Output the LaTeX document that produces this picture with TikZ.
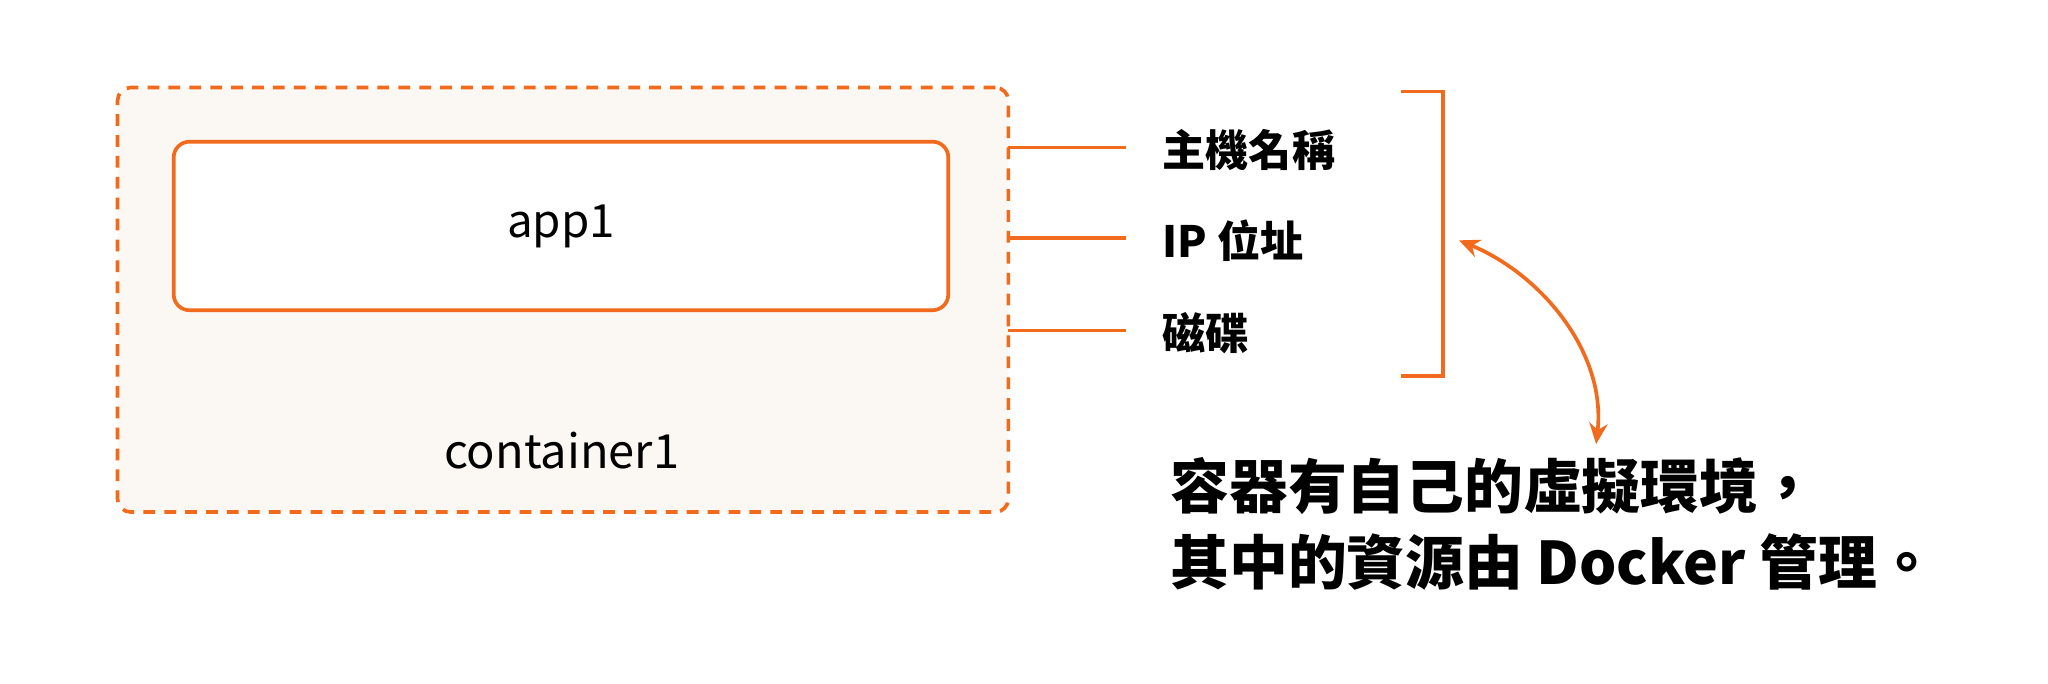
\documentclass[tikz,border=0pt]{standalone}
\usepackage{fontspec}
\setmainfont{Noto Sans CJK TC}
\usetikzlibrary{arrows.meta}
\definecolor{org}{HTML}{F26A1B}
\definecolor{bg}{HTML}{FBF8F4}
\begin{document}
\begin{tikzpicture}[x=1pt,y=-1pt,
  line/.style={draw=org,line width=2.8pt},
  lab/.style={anchor=west,font=\fontsize{33}{36}\selectfont\bfseries,inner sep=0},
  ]
\useasboundingbox (0,0) rectangle (1568,523);
\fill[white] (0,0) rectangle (1568,523);
\node[line,dashed,dash pattern=on 9pt off 7pt,fill=bg,rounded corners=10pt,minimum width=682pt,minimum height=325pt] (cont) at (431,229.5) {};
\node[line,fill=white,rounded corners=12pt,minimum width=593pt,minimum height=129pt,font=\fontsize{35}{38}\selectfont] (app) at (429.5,173) {app1};
\node[font=\fontsize{36}{38}\selectfont] (cl) at (430,345) {container1};
\node[lab] (l1) at (890,115) {主機名稱};
\node[lab] (l2) at (890,184) {IP 位址};
\node[lab] (l3) at (890,255) {磁碟};
\coordinate (a1) at (772,113); \coordinate (b1) at (862,113);
\coordinate (a2) at (772,182); \coordinate (b2) at (862,182);
\coordinate (a3) at (772,253); \coordinate (b3) at (862,253);
\draw[line] (a1)--(b1); \draw[line] (a2)--(b2); \draw[line] (a3)--(b3);
\coordinate (k1) at (1073,70); \coordinate (k2) at (1105,70);
\coordinate (k3) at (1105,288); \coordinate (k4) at (1073,288);
\draw[line] (k1)--(k2)--(k3)--(k4);
\coordinate (p1) at (1117,184); \coordinate (p2) at (1222,340);
\draw[line,{Stealth[length=16pt,width=14pt]}-{Stealth[length=16pt,width=14pt]}] (p1) .. controls (1180,210) and (1230,270) .. (p2);
\node[anchor=north west,align=left,inner sep=0,font=\fontsize{45}{58}\selectfont\bfseries] (txt) at (896,350) {容器有自己的虛擬環境，\\其中的資源由 Docker 管理。};
\end{tikzpicture}
\end{document}
